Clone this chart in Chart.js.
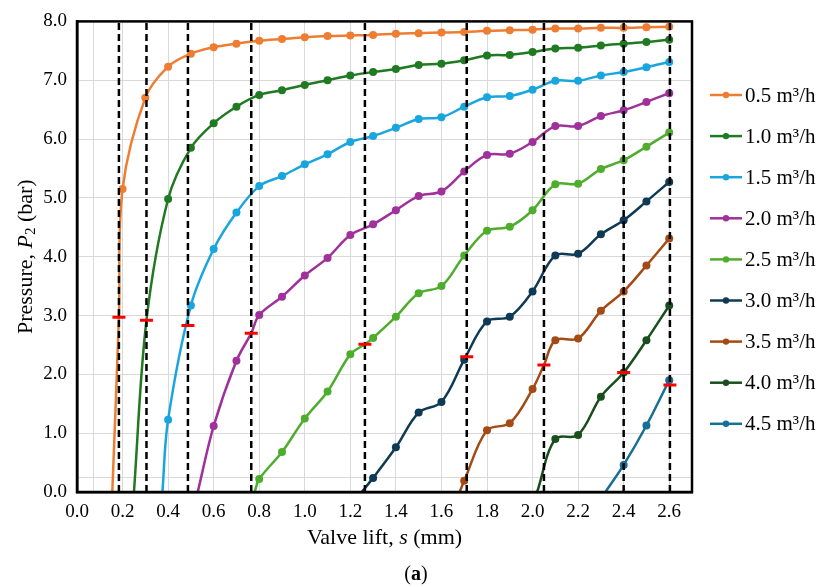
<!DOCTYPE html>
<html>
<head>
<meta charset="utf-8">
<script src="https://cdn.jsdelivr.net/npm/chart.js@4.4.1/dist/chart.umd.min.js"></script>
<style>
  html, body { margin: 0; padding: 0; background: #fff; }
  #wrap { width: 830px; height: 587px; }
</style>
</head>
<body>
<div id="wrap"><canvas id="chart" width="830" height="587"></canvas></div>
<script>
// flow rates (legend) and their colours
const flowLabels = ['0.5 m³/h', '1.0 m³/h', '1.5 m³/h', '2.0 m³/h', '2.5 m³/h',
                    '3.0 m³/h', '3.5 m³/h', '4.0 m³/h', '4.5 m³/h'];
const flowColors = ['#ee7d31', '#1f7a22', '#19a5de', '#a0309a', '#4fad2d',
                    '#0f3a55', '#a34a15', '#1a4f1d', '#176f95'];

// valve lift where markers sit (mm)
const liftGrid = [0.2, 0.3, 0.4, 0.5, 0.6, 0.7, 0.8, 0.9, 1.0, 1.1, 1.2, 1.3, 1.4,
                  1.5, 1.6, 1.7, 1.8, 1.9, 2.0, 2.1, 2.2, 2.3, 2.4, 2.5, 2.6];

// pressure P2 (bar) at each lift, one array per flow rate
const p05 = [5.15, 6.70, 7.23, 7.45, 7.56, 7.62, 7.67, 7.70, 7.73, 7.75, 7.76, 7.77, 7.79,
             7.80, 7.81, 7.82, 7.84, 7.85, 7.86, 7.88, 7.88, 7.89, 7.89, 7.90, 7.91];
const p10 = [null, null, 4.98, 5.85, 6.27, 6.55, 6.75, 6.83, 6.92, 7.00, 7.08, 7.14, 7.19,
             7.26, 7.28, 7.34, 7.42, 7.43, 7.48, 7.54, 7.55, 7.59, 7.62, 7.65, 7.69];
const p15 = [null, null, 1.23, 3.17, 4.13, 4.75, 5.20, 5.37, 5.57, 5.74, 5.95, 6.05, 6.19,
             6.34, 6.37, 6.55, 6.71, 6.73, 6.84, 6.99, 6.99, 7.08, 7.14, 7.22, 7.31];
const p20 = [null, null, null, null, 1.12, 2.23, 3.01, 3.32, 3.68, 3.98, 4.37, 4.55, 4.79,
             5.03, 5.11, 5.45, 5.73, 5.75, 5.95, 6.22, 6.22, 6.39, 6.49, 6.63, 6.78];
const p25 = [null, null, null, null, null, null, 0.22, 0.68, 1.25, 1.71, 2.34, 2.62, 2.98,
             3.38, 3.50, 4.02, 4.44, 4.51, 4.79, 5.23, 5.24, 5.49, 5.64, 5.87, 6.11];
const p30 = [null, null, null, null, null, null, null, null, null, null, null, 0.24, 0.76,
             1.35, 1.53, 2.25, 2.90, 2.98, 3.41, 4.02, 4.05, 4.38, 4.62, 4.94, 5.27];
const p35 = [null, null, null, null, null, null, null, null, null, null, null, null, null,
             null, null, 0.19, 1.05, 1.17, 1.75, 2.58, 2.61, 3.08, 3.41, 3.85, 4.31];
const p40 = [null, null, null, null, null, null, null, null, null, null, null, null, null,
             null, null, null, null, null, null, 0.90, 0.97, 1.62, 2.03, 2.58, 3.17];
const p45 = [null, null, null, null, null, null, null, null, null, null, null, null, null,
             null, null, null, null, null, null, null, null, null, 0.46, 1.13, 1.90];
const pressures = [p05, p10, p15, p20, p25, p30, p35, p40, p45];

// lift where each curve leaves the axis (P2 = 0)
const zeroLift = [0.155, 0.25, 0.375, 0.53, 0.78, 1.25, 1.68, 2.02, 2.32];

// dashed lines and red marks (operating points)
const cutLift = [0.184, 0.305, 0.487, 0.765, 1.264, 1.711, 2.05, 2.40, 2.603];
const cutPressure = [2.97, 2.92, 2.83, 2.70, 2.51, 2.30, 2.16, 2.03, 1.82];

// axes
const xTicks = [0, 0.2, 0.4, 0.6, 0.8, 1.0, 1.2, 1.4, 1.6, 1.8, 2.0, 2.2, 2.4, 2.6];
const yTicks = [0, 1, 2, 3, 4, 5, 6, 7, 8];
const xExtraGrid = [0.072];
const yExtraGrid = [0.24];

const SERIF = '"Liberation Serif", "Times New Roman", serif';

function buildSeries(i) {
  const values = pressures[i];
  const pts = [{x: zeroLift[i], y: 0, hide: true}];
  liftGrid.forEach((x, k) => {
    if (values[k] != null) pts.push({x: x, y: values[k]});
  });
  // pass the curve through its red mark when no marker is right there
  const near = liftGrid.some((x, k) => values[k] != null && Math.abs(x - cutLift[i]) < 0.015);
  if (!near) pts.push({x: cutLift[i], y: cutPressure[i], hide: true});
  pts.sort((a, b) => a.x - b.x);
  return pts;
}

const datasets = [];

// red marks on top
datasets.push({
  label: 'marks',
  data: cutLift.map((x, i) => ({x: x, y: cutPressure[i]})),
  showLine: false,
  pointStyle: 'line',
  pointRadius: 6.5,
  borderColor: '#ff0000',
  borderWidth: 3,
  order: 0
});

// vertical dashed lines
cutLift.forEach((x) => {
  datasets.push({
    label: 'cut',
    data: [{x: x, y: 0}, {x: x, y: 8}],
    borderColor: '#000',
    borderWidth: 2.5,
    borderDash: [7, 4],
    pointRadius: 0,
    tension: 0,
    order: 1
  });
});

flowLabels.forEach((label, i) => {
  datasets.push({
    label: label,
    data: buildSeries(i),
    borderColor: flowColors[i],
    backgroundColor: flowColors[i],
    pointBackgroundColor: flowColors[i],
    pointBorderColor: flowColors[i],
    borderWidth: 2.5,
    pointBorderWidth: 0,
    pointRadius: (c) => (c.raw && c.raw.hide ? 0 : 4),
    tension: 0.35,
    order: 2
  });
});

// draw a line of text made of runs with different fonts, centred at (cx, cy)
function drawRuns(ctx, runs, cx, cy) {
  let total = 0;
  runs.forEach((r) => { ctx.font = r.font; r.w = ctx.measureText(r.text).width; total += r.w; });
  let x = cx - total / 2;
  ctx.textAlign = 'left';
  ctx.textBaseline = 'middle';
  runs.forEach((r) => {
    ctx.font = r.font;
    ctx.fillText(r.text, x, cy + (r.dy || 0));
    x += r.w;
  });
}

const decorPlugin = {
  id: 'decor',
  afterDraw(chart) {
    const {ctx, chartArea} = chart;
    ctx.save();

    // frame
    ctx.strokeStyle = '#000';
    ctx.lineWidth = 2.5;
    ctx.strokeRect(chartArea.left, chartArea.top,
                   chartArea.right - chartArea.left, chartArea.bottom - chartArea.top);

    ctx.fillStyle = '#000';
    // x title
    drawRuns(ctx, [
      {text: 'Valve lift, ', font: '22px ' + SERIF},
      {text: 's', font: 'italic 22px ' + SERIF},
      {text: ' (mm)', font: '22px ' + SERIF}
    ], (chartArea.left + chartArea.right) / 2, 538);

    // y title
    ctx.save();
    ctx.translate(26, (chartArea.top + chartArea.bottom) / 2);
    ctx.rotate(-Math.PI / 2);
    drawRuns(ctx, [
      {text: 'Pressure, ', font: '22px ' + SERIF},
      {text: 'P', font: 'italic 22px ' + SERIF},
      {text: '2', font: '15px ' + SERIF, dy: 5},
      {text: ' (bar)', font: '22px ' + SERIF}
    ], 0, 0);
    ctx.restore();

    // panel label
    drawRuns(ctx, [
      {text: '(', font: '20px ' + SERIF},
      {text: 'a', font: 'bold 20px ' + SERIF},
      {text: ')', font: '20px ' + SERIF}
    ], 416, 575);

    // legend
    const lx = chartArea.right + 18;
    flowLabels.forEach((label, i) => {
      const y = 95 + i * 41.1;
      ctx.strokeStyle = flowColors[i];
      ctx.lineWidth = 2.5;
      ctx.beginPath();
      ctx.moveTo(lx, y);
      ctx.lineTo(lx + 32, y);
      ctx.stroke();
      ctx.fillStyle = flowColors[i];
      ctx.beginPath();
      ctx.arc(lx + 16, y, 3.2, 0, Math.PI * 2);
      ctx.fill();
      ctx.fillStyle = '#000';
      ctx.font = '21px ' + SERIF;
      ctx.textAlign = 'left';
      ctx.textBaseline = 'middle';
      ctx.fillText(label, lx + 35, y + 1);
    });

    ctx.restore();
  }
};

const ctx = document.getElementById('chart').getContext('2d');
new Chart(ctx, {
  type: 'line',
  data: {datasets: datasets},
  options: {
    responsive: false,
    animation: false,
    layout: {padding: {top: 20, right: 138, left: 0, bottom: 0}},
    plugins: {
      legend: {display: false},
      tooltip: {enabled: false}
    },
    scales: {
      x: {
        type: 'linear',
        min: 0,
        max: 2.7,
        afterBuildTicks: (scale) => {
          scale.ticks = xTicks.concat(xExtraGrid).sort((a, b) => a - b).map((v) => ({value: v}));
        },
        afterFit: (scale) => { scale.height = 95; },
        ticks: {
          autoSkip: false,
          maxRotation: 0,
          padding: 9,
          color: '#000',
          font: {family: SERIF, size: 19},
          callback: (v) => (xTicks.some((t) => Math.abs(t - v) < 1e-6) ? Number(v).toFixed(1) : '')
        },
        grid: {color: '#d9d9d9', lineWidth: 1, drawTicks: false},
        border: {color: '#000', width: 2.5}
      },
      y: {
        type: 'linear',
        min: 0,
        max: 8,
        afterBuildTicks: (scale) => {
          scale.ticks = yTicks.concat(yExtraGrid).sort((a, b) => a - b).map((v) => ({value: v}));
        },
        afterFit: (scale) => { scale.width = 77; },
        ticks: {
          autoSkip: false,
          padding: 10,
          color: '#000',
          font: {family: SERIF, size: 19},
          callback: (v) => (yTicks.includes(v) ? Number(v).toFixed(1) : '')
        },
        grid: {color: '#d9d9d9', lineWidth: 1, drawTicks: false},
        border: {color: '#000', width: 2.5}
      }
    }
  },
  plugins: [decorPlugin]
});
</script>
</body>
</html>
